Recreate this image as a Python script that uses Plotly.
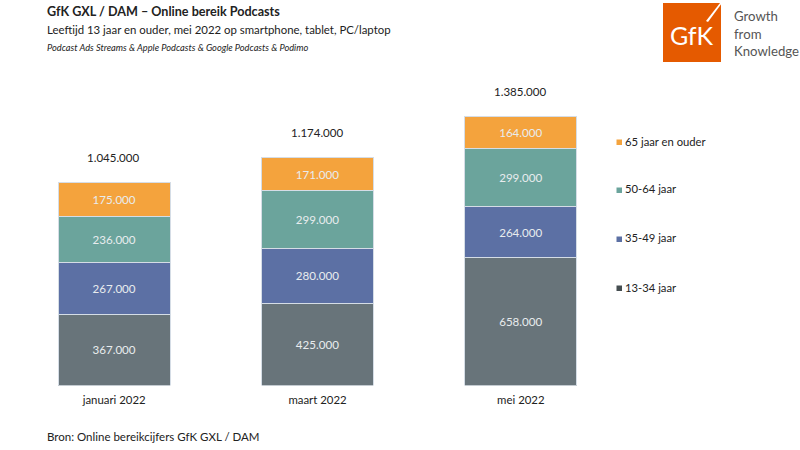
import plotly.graph_objects as go

W, H = 800, 450
months = ["januari 2022", "maart 2022", "mei 2022"]
age_13_34 = [367000, 425000, 658000]
age_35_49 = [267000, 280000, 264000]
age_50_64 = [236000, 299000, 299000]
age_65 = [175000, 171000, 164000]
totals = [1045000, 1174000, 1385000]
series_names = ["13-34 jaar", "35-49 jaar", "50-64 jaar", "65 jaar en ouder"]
bar_colors = ["#68747a", "#5c70a4", "#6ba49c", "#f4a33d"]
key_colors = ["#454d50", "#5c70a4", "#6ba49c", "#f4a33d"]
FONT = "Lato"


def fmt(v):
    return f"{v:,}".replace(",", ".")


def px(x):
    return x / W


def py(y):
    return 1 - y / H


fig = go.Figure()
for name, vals, col in zip(series_names, [age_13_34, age_35_49, age_50_64, age_65], bar_colors):
    fig.add_bar(
        x=months, y=vals, name=name, marker=dict(color=col, line=dict(color="#d5dde6", width=1)),
        text=[fmt(v) for v in vals], textposition="inside", insidetextanchor="middle",
        textangle=0, insidetextfont=dict(family=FONT, size=11.6, color="#e8ecee"),
        showlegend=False, hoverinfo="skip",
    )

shapes = []
annotations = []


def text(x, y, s, size, color="#222222", anchor="left"):
    annotations.append(dict(
        x=px(x), y=py(y), xref="paper", yref="paper", text=s, showarrow=False,
        xanchor=anchor, yanchor="middle", font=dict(family=FONT, size=size, color=color),
        borderpad=0,
    ))


for m, t in zip(months, totals):
    annotations.append(dict(x=m, y=t, xref="x", yref="y", text=fmt(t), showarrow=False,
                            yanchor="middle", yshift=25, xshift=-1, borderpad=0,
                            font=dict(family=FONT, size=11.5, color="#222222")))

text(45.5, 11, "<b>GfK GXL / DAM – Online bereik Podcasts</b>", 12.6)
text(45.5, 29.5, "Leeftijd 13 jaar en ouder, mei 2022 op smartphone, tablet, PC/laptop", 11.4)
text(45.5, 47.5, "<i>Podcast Ads Streams &amp; Apple Podcasts &amp; Google Podcasts &amp; Podimo</i>", 9.25)
text(45.5, 436.5, "Bron: Online bereikcijfers GfK GXL / DAM", 11.5)

# legend keys, top to bottom
key_y = [287, 238, 189, 141]
for name, col, y in zip(series_names, key_colors, key_y):
    shapes.append(dict(type="rect", xref="paper", yref="paper", x0=px(616.5), x1=px(622),
                       y0=py(y + 4), y1=py(y - 1.5), fillcolor=col, line=dict(width=0)))
    text(623.5, y, name, 11.25)

# logo
shapes.append(dict(type="rect", xref="paper", yref="paper", x0=px(663), x1=px(721),
                   y0=py(62), y1=py(3), fillcolor="#e55a00", line=dict(width=0)))
shapes.append(dict(type="path", xref="paper", yref="paper",
                   path=f"M {px(706)} {py(21)} L {px(720)} {py(3)} L {px(722)} {py(3)} L {px(708)} {py(22)} Z",
                   fillcolor="#ffffff", line=dict(width=0)))
text(692, 35, "GfK", 25, "#ffffff", "center")
text(733, 15.5, "Growth", 13.2, "#555555")
text(733, 34, "from", 13.2, "#555555")
text(733, 51, "Knowledge", 13.2, "#555555")

fig.update_layout(
    width=W, height=H, margin=dict(l=0, r=0, t=0, b=0), autosize=False,
    paper_bgcolor="#ffffff", plot_bgcolor="#ffffff", barmode="stack", bargap=0.45,
    showlegend=False, shapes=shapes, annotations=annotations,
    font=dict(family=FONT, color="#222222"),
    xaxis=dict(domain=[px(12.5), px(622.5)], showgrid=False, showline=False, zeroline=False,
               ticks="", ticklabelstandoff=6, tickfont=dict(family=FONT, size=11.4, color="#222222")),
    yaxis=dict(domain=[py(385.5), py(75)], range=[0, 1601000], visible=False),
)
fig.write_html("out.html", config={"displayModeBar": False},
               post_script="document.body.style.margin='0';document.body.style.overflow='hidden';")
